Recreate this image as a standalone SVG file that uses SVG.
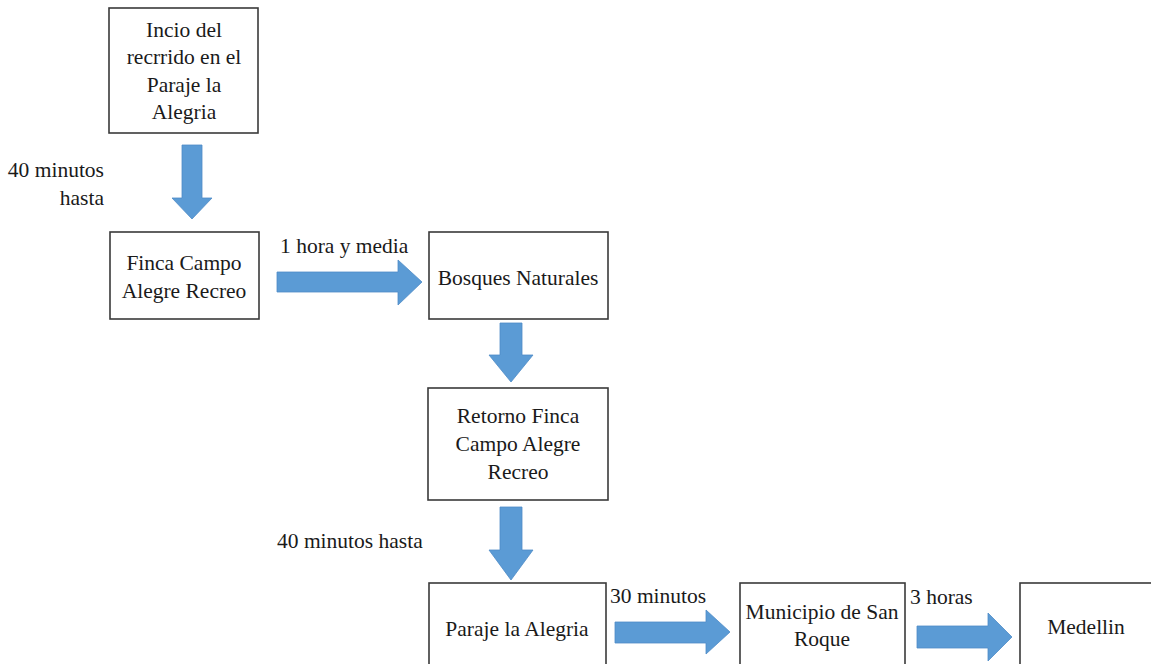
<svg xmlns="http://www.w3.org/2000/svg" width="1151" height="664" viewBox="0 0 1151 664">
<style>
.box{fill:#fff;stroke:#3a3a3a;stroke-width:1.6}
.t{font-family:"Liberation Serif","Times New Roman",serif;font-size:21.5px;fill:#1a1a1a}
.c{text-anchor:middle}
.r{text-anchor:end}
.arr{fill:#5b9bd5;stroke:#4f8cc6;stroke-width:0.8}
</style>
<rect width="1151" height="664" fill="#fff"/>
<g id="connectors">
<path class="arr" d="M182,145 H202 V198 H212 L192,219 L172,198 H182 Z"/>
<path class="arr" d="M277,272 H398 V260 L422,282 L398,305 V292 H277 Z"/>
<path class="arr" d="M500,323 H522 V355 H533 L511,382 L489,355 H500 Z"/>
<path class="arr" d="M500,507 H522 V550 H533 L511,580 L489,550 H500 Z"/>
<path class="arr" d="M615,622 H706 V610 L730,632 L706,654 V643 H615 Z"/>
<path class="arr" d="M917,626 H988 V613 L1012,637 L988,661 V648 H917 Z"/>
</g>
<g id="labels">
<text class="t r" x="104" y="177">40 minutos</text>
<text class="t r" x="104" y="205">hasta</text>
<text class="t" x="280" y="253">1 hora y media</text>
<text class="t" x="277" y="548">40 minutos hasta</text>
<text class="t" x="610" y="603">30 minutos</text>
<text class="t" x="910" y="604">3 horas</text>
</g>
<g id="n1">
<rect class="box" x="109" y="8" width="149" height="125"/>
<text class="t c" x="184" y="37">Incio del</text>
<text class="t c" x="184" y="64">recrrido en el</text>
<text class="t c" x="184" y="92">Paraje la</text>
<text class="t c" x="184" y="119">Alegria</text>
</g>
<g id="n2">
<rect class="box" x="110" y="232" width="149" height="87"/>
<text class="t c" x="184" y="270">Finca Campo</text>
<text class="t c" x="184" y="298">Alegre Recreo</text>
</g>
<g id="n3">
<rect class="box" x="429" y="232" width="179" height="87"/>
<text class="t c" x="518" y="285">Bosques Naturales</text>
</g>
<g id="n4">
<rect class="box" x="428" y="388" width="180" height="112"/>
<text class="t c" x="518" y="423">Retorno Finca</text>
<text class="t c" x="518" y="451">Campo Alegre</text>
<text class="t c" x="518" y="479">Recreo</text>
</g>
<g id="n5">
<rect class="box" x="429" y="583" width="177" height="90"/>
<text class="t c" x="517" y="636">Paraje la Alegria</text>
</g>
<g id="n6">
<rect class="box" x="740" y="583" width="165" height="90"/>
<text class="t c" x="822" y="619">Municipio de San</text>
<text class="t c" x="822" y="646">Roque</text>
</g>
<g id="n7">
<rect class="box" x="1020" y="583" width="140" height="90"/>
<text class="t c" x="1086" y="634">Medellin</text>
</g>
</svg>
